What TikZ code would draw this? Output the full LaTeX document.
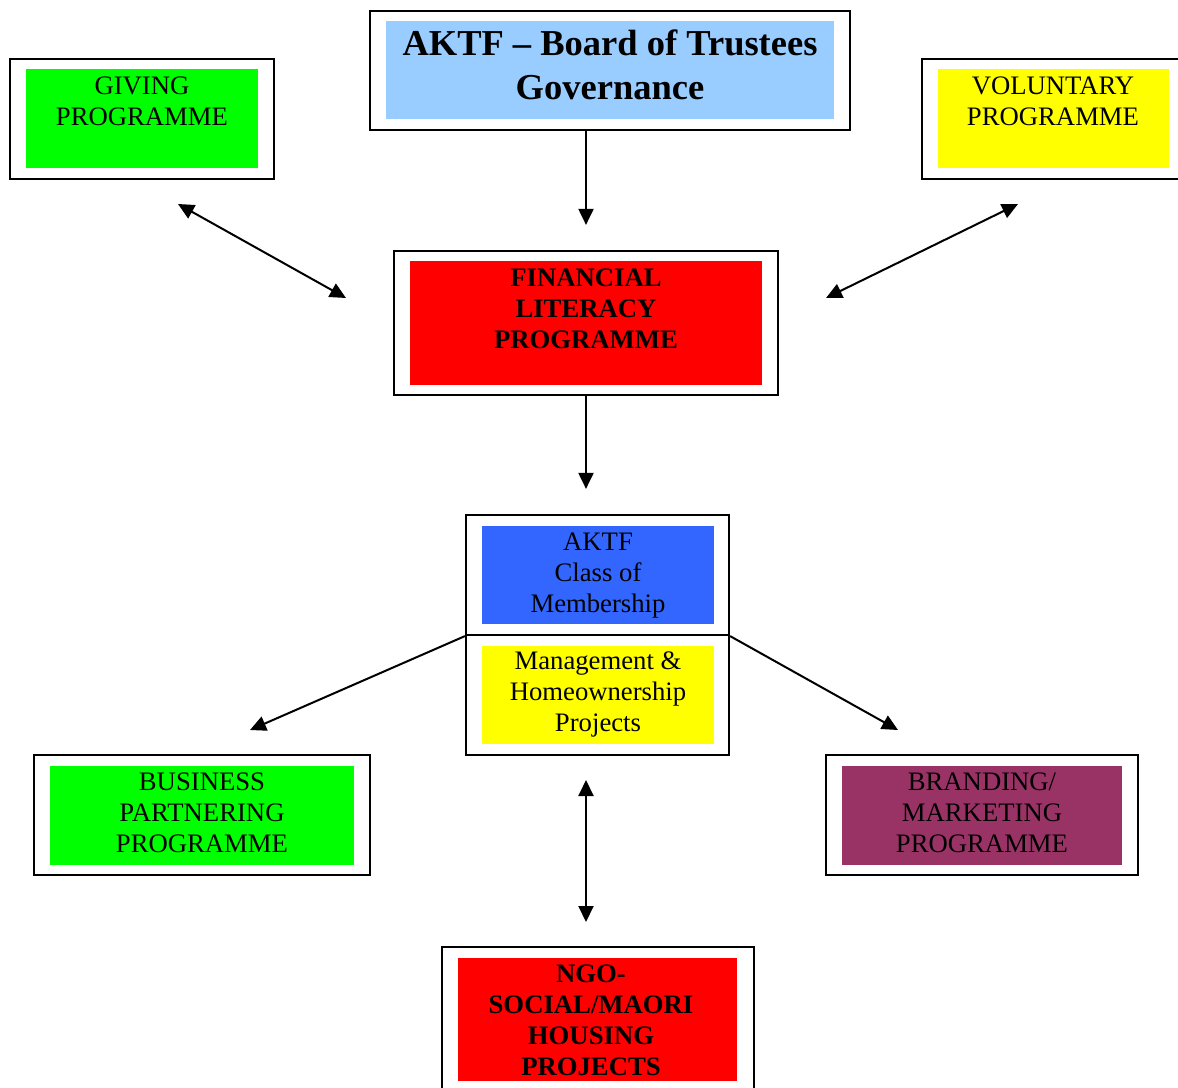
\documentclass[tikz,border=0pt]{standalone}
\usepackage{fontspec}
\setmainfont{Liberation Serif}
\usepackage{xcolor}
\usepackage{tikz}
\usetikzlibrary{arrows.meta,positioning,calc}
\tikzset{>=stealth}

\definecolor{govblue}{HTML}{99CCFF}
\definecolor{membblue}{HTML}{3366FF}
\definecolor{progreen}{HTML}{00FF00}
\definecolor{proyellow}{HTML}{FFFF00}
\definecolor{prored}{HTML}{FF0000}
\definecolor{propurple}{HTML}{993366}

\begin{document}
\begin{tikzpicture}[x=1pt, y=-1pt,
	outerframe/.style={draw, line width=2.2pt, inner sep=0pt},
	panel/.style={inner sep=0pt},
	boxtext/.style={anchor=base, align=flush center, text width=480pt, inner sep=0pt, font=\fontsize{26.7}{31}\selectfont},
	boldtext/.style={boxtext, font=\fontsize{26.7}{31}\selectfont\bfseries},
	titletext/.style={boxtext, font=\fontsize{36.5}{44}\selectfont\bfseries},
	link/.style={line width=2pt, -{Triangle[length=16pt,width=15pt]}},
	duallink/.style={line width=2pt, {Triangle[length=16pt,width=15pt]}-{Triangle[length=16pt,width=15pt]}}]
	\useasboundingbox (0,0) rectangle (1178,1087);
	
	% Board of trustees
	\node[outerframe, minimum width=480pt, minimum height=119pt] (govframe) at (610,70.5) {};
	\node[panel, fill=govblue, minimum width=448pt, minimum height=98pt] (gov) at (610,70) {};
	\node[titletext] (govtext) at (610,55) {AKTF -- Board of Trustees\\Governance};
	
	% Giving and voluntary programmes
	\node[outerframe, minimum width=264pt, minimum height=120pt] (givingframe) at (142,119) {};
	\node[panel, fill=progreen, minimum width=232pt, minimum height=99pt] (giving) at (142,118.5) {};
	\node[boxtext] (givingtext) at (142,94) {GIVING\\PROGRAMME};
	\node[outerframe, minimum width=263pt, minimum height=120pt] (volframe) at (1053.5,119) {};
	\node[panel, fill=proyellow, minimum width=231pt, minimum height=99pt] (vol) at (1053.5,118.5) {};
	\node[boxtext] (voltext) at (1053,94) {VOLUNTARY\\PROGRAMME};
	
	% Financial literacy
	\node[outerframe, minimum width=384pt, minimum height=144pt] (finframe) at (586,323) {};
	\node[panel, fill=prored, minimum width=352pt, minimum height=124pt] (fin) at (586,323) {};
	\node[boldtext] (fintext) at (586,286) {FINANCIAL\\LITERACY\\PROGRAMME};
	
	% Membership and management
	\node[outerframe, minimum width=263pt, minimum height=120pt] (memberframe) at (597.5,575) {};
	\node[panel, fill=membblue, minimum width=232pt, minimum height=98pt] (member) at (598,575) {};
	\node[boxtext] (membertext) at (598,550) {AKTF\\Class of\\Membership};
	\node[outerframe, minimum width=263pt, minimum height=120pt] (mgmtframe) at (597.5,695) {};
	\node[panel, fill=proyellow, minimum width=232pt, minimum height=98pt] (mgmt) at (598,695) {};
	\node[boxtext] (mgmttext) at (598,669) {Management \&\\Homeownership\\Projects};
	
	% Business and branding
	\node[outerframe, minimum width=336pt, minimum height=120pt] (bizframe) at (202,815) {};
	\node[panel, fill=progreen, minimum width=304pt, minimum height=99pt] (biz) at (202,815.5) {};
	\node[boxtext] (biztext) at (202,790) {BUSINESS\\PARTNERING\\PROGRAMME};
	\node[outerframe, minimum width=312pt, minimum height=120pt] (brandframe) at (982,815) {};
	\node[panel, fill=propurple, minimum width=280pt, minimum height=99pt] (brand) at (982,815.5) {};
	\node[boxtext] (brandtext) at (982,790) {BRANDING/\\MARKETING\\PROGRAMME};
	
	% NGO housing
	\node[outerframe, minimum width=312pt, minimum height=145pt] (ngoframe) at (598,1019.5) {};
	\node[panel, fill=prored, minimum width=279pt, minimum height=123pt] (ngo) at (597.5,1019.5) {};
	\node[boldtext] (ngotext) at (591,982) {NGO-\\SOCIAL/MAORI\\HOUSING\\PROJECTS};
	
	% free arrow ends
	\coordinate (givingend) at (178,204);
	\coordinate (finwest) at (346,298);
	\coordinate (volend) at (1018,204);
	\coordinate (fineast) at (826,298);
	\coordinate (bizend) at (250,730);
	\coordinate (brandend) at (898,730);
	\coordinate (ngotop) at (586,780);
	\coordinate (ngoend) at (586,922);
	
	% connectors
	\draw[link, shorten >=25pt] (finframe |- govframe.south) -- (finframe.north);
	\draw[link, shorten >=25pt] (finframe.south) -- (finframe.south |- memberframe.north);
	\draw[duallink] (givingend) -- (finwest);
	\draw[duallink] (volend) -- (fineast);
	\draw[link] (memberframe.south west) -- (bizend);
	\draw[link] (memberframe.south east) -- (brandend);
	\draw[duallink] (ngotop) -- (ngoend);
\end{tikzpicture}
\end{document}
